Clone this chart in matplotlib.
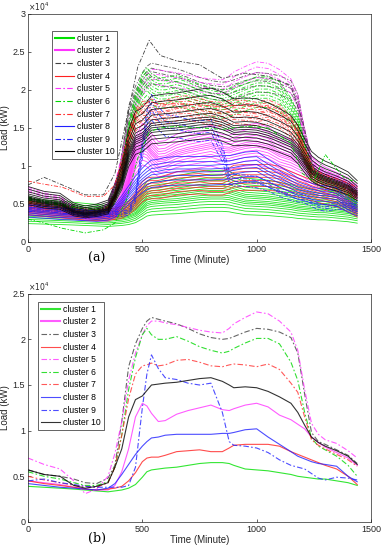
import numpy as np
import matplotlib
matplotlib.use("Agg")
import matplotlib.pyplot as plt

# time grid (minutes) at which the centroid loads were read (values x 1e4 kW)
t = [0, 70, 140, 200, 250, 300, 350, 380, 410, 440, 470, 500, 520, 540, 570, 600,
     650, 700, 750, 800, 850, 880, 900, 950, 1000, 1050, 1100, 1150, 1180, 1210,
     1240, 1270, 1300, 1350, 1400, 1440]

c1 = [0.39, 0.38, 0.37, 0.36, 0.35, 0.34, 0.33, 0.34, 0.35, 0.37, 0.41, 0.49, 0.55, 0.57,
      0.58, 0.59, 0.60, 0.62, 0.64, 0.65, 0.65, 0.64, 0.62, 0.58, 0.57, 0.56, 0.54, 0.52,
      0.50, 0.49, 0.48, 0.47, 0.47, 0.45, 0.43, 0.40]
c2 = [0.45, 0.43, 0.41, 0.38, 0.36, 0.35, 0.35, 0.40, 0.55, 0.80, 1.15, 1.30, 1.27, 1.19,
      1.10, 1.11, 1.18, 1.22, 1.25, 1.28, 1.23, 1.22, 1.24, 1.28, 1.30, 1.26, 1.17, 1.12,
      1.07, 1.02, 0.93, 0.87, 0.82, 0.76, 0.70, 0.62]
c3 = [0.57, 0.52, 0.50, 0.47, 0.43, 0.42, 0.48, 0.62, 1.10, 1.70, 1.95, 2.12, 2.20, 2.24,
      2.22, 2.20, 2.17, 2.12, 2.06, 2.02, 2.00, 2.01, 2.03, 2.08, 2.12, 2.11, 2.08, 2.02,
      1.85, 1.40, 0.98, 0.88, 0.85, 0.79, 0.73, 0.64]
c4 = [0.45, 0.42, 0.40, 0.38, 0.36, 0.35, 0.36, 0.37, 0.39, 0.45, 0.54, 0.66, 0.70, 0.71,
      0.71, 0.73, 0.77, 0.78, 0.79, 0.77, 0.77, 0.81, 0.84, 0.85, 0.85, 0.85, 0.83, 0.77,
      0.74, 0.71, 0.68, 0.65, 0.62, 0.58, 0.50, 0.41]
c5 = [0.70, 0.63, 0.58, 0.45, 0.31, 0.36, 0.50, 0.75, 1.10, 1.55, 1.85, 2.05, 2.15, 2.20,
      2.20, 2.18, 2.16, 2.13, 2.10, 2.08, 2.07, 2.12, 2.17, 2.24, 2.30, 2.28, 2.20, 2.08,
      1.88, 1.45, 1.08, 0.96, 0.90, 0.86, 0.78, 0.70]
c6 = [0.55, 0.50, 0.47, 0.43, 0.40, 0.40, 0.44, 0.60, 0.95, 1.45, 1.80, 2.05, 2.12, 2.05,
      2.00, 2.00, 2.03, 1.98, 1.92, 1.88, 1.85, 1.87, 1.90, 1.96, 2.01, 2.01, 1.95, 1.75,
      1.55, 1.20, 0.92, 0.83, 0.79, 0.72, 0.62, 0.50]
c7 = [0.50, 0.46, 0.43, 0.40, 0.39, 0.38, 0.43, 0.60, 0.95, 1.35, 1.62, 1.71, 1.72, 1.74,
      1.71, 1.72, 1.77, 1.78, 1.75, 1.71, 1.70, 1.72, 1.73, 1.72, 1.70, 1.73, 1.67, 1.52,
      1.42, 1.15, 0.90, 0.84, 0.80, 0.74, 0.68, 0.61]
c8 = [0.42, 0.40, 0.38, 0.37, 0.36, 0.35, 0.37, 0.42, 0.52, 0.63, 0.74, 0.83, 0.88, 0.92,
      0.93, 0.95, 0.96, 0.96, 0.96, 0.96, 0.97, 0.97, 0.98, 1.01, 1.02, 0.93, 0.85, 0.77,
      0.72, 0.69, 0.66, 0.64, 0.63, 0.61, 0.50, 0.44]
c9 = [0.45, 0.47, 0.43, 0.41, 0.39, 0.38, 0.38, 0.38, 0.38, 0.40, 0.60, 1.25, 1.62, 1.83,
      1.68, 1.58, 1.56, 1.52, 1.50, 1.52, 1.20, 0.88, 0.84, 0.83, 0.81, 0.76, 0.68, 0.62,
      0.60, 0.58, 0.53, 0.48, 0.46, 0.49, 0.48, 0.46]
c10 = [0.57, 0.52, 0.50, 0.40, 0.37, 0.39, 0.43, 0.60, 0.80, 1.15, 1.34, 1.38, 1.44, 1.50,
       1.51, 1.52, 1.53, 1.55, 1.57, 1.58, 1.54, 1.50, 1.47, 1.48, 1.47, 1.43, 1.37, 1.30,
       1.20, 1.06, 0.93, 0.87, 0.83, 0.78, 0.72, 0.63]

centroids = [c1, c2, c3, c4, c5, c6, c7, c8, c9, c10]
names = ["cluster %d" % (i + 1) for i in range(10)]
colors = ["#00e000", "#ff33ff", "#404040", "#ff2020", "#ff33ff",
          "#00d800", "#ff3030", "#2020ff", "#2020ff", "#000000"]
dashdot = (0, (5, 2, 1.5, 2))
styles = ["-", "-", dashdot, "-", dashdot, dashdot, dashdot, "-", dashdot, "-"]

# member curves of each cluster in (a), as scale factors of its centroid
m1 = [0.62, 0.70, 0.76, 0.82, 0.87, 0.91, 0.95, 1.00, 1.04, 1.08, 1.13, 1.18, 1.24,
      1.30, 1.37, 1.45]
m2 = [0.78, 0.83, 0.87, 0.90, 0.93, 0.96, 0.98, 1.00, 1.02, 1.05, 1.08, 1.11, 1.15, 1.20]
m3 = [0.93, 0.97, 1.00, 1.02, 1.05]
m4 = [0.80, 0.86, 0.91, 0.95, 1.00, 1.04, 1.09, 1.14, 1.20]
m5 = [0.94, 0.97, 1.00, 1.03]
m6 = [0.88, 0.91, 0.94, 0.96, 0.98, 1.00, 1.02, 1.04, 1.06, 1.08]
m7 = [0.90, 0.93, 0.95, 0.97, 0.99, 1.00, 1.02, 1.04, 1.06, 1.08]
m8 = [0.78, 0.85, 0.91, 0.96, 1.00, 1.05, 1.10, 1.17]
m9 = [0.88, 0.95, 1.00, 1.06]
m10 = [0.86, 0.90, 0.93, 0.96, 0.98, 1.00, 1.02, 1.04, 1.07, 1.11, 1.16, 1.22, 1.28]
members = [m1, m2, m3, m4, m5, m6, m7, m8, m9, m10]

# a few individual outlier curves seen in (a)
t_out = [0, 70, 150, 250, 330, 380, 430, 480, 530, 580, 650, 750, 850, 950, 1050,
         1150, 1200, 1250, 1300, 1380, 1440]
out3 = [0.75, 0.85, 0.75, 0.62, 0.62, 0.90, 1.60, 2.30, 2.65, 2.45, 2.38, 2.33, 2.15,
        2.22, 2.18, 2.05, 1.60, 0.95, 0.85, 0.75, 0.65]
out6 = [0.30, 0.25, 0.18, 0.12, 0.16, 0.25, 0.55, 1.10, 1.45, 1.50, 1.52, 1.50, 1.48,
        1.52, 1.50, 1.30, 0.90, 0.80, 1.15, 0.85, 0.78]
out7 = [0.80, 0.76, 0.72, 0.60, 0.60, 0.75, 1.30, 1.75, 1.85, 1.80, 1.82, 1.80, 1.78,
        1.80, 1.78, 1.62, 1.30, 0.95, 0.88, 0.80, 0.72]

plt.rcParams['font.family'] = ['Arial', 'Liberation Sans', 'DejaVu Sans']

fig = plt.figure(figsize=(3.84, 5.5), dpi=100)
ax1 = fig.add_axes([0.073, 0.56, 0.893, 0.415])
ax2 = fig.add_axes([0.073, 0.051, 0.893, 0.415])

tt = np.array(t)
for k in range(10):
    c = np.array(centroids[k])
    for s in members[k]:
        ax1.plot(tt, c * s * 1e4, color=colors[k], ls=styles[k], lw=0.6, alpha=0.85)
ax1.plot(t_out, np.array(out3) * 1e4, color=colors[2], ls=dashdot, lw=0.6)
ax1.plot(t_out, np.array(out6) * 1e4, color=colors[5], ls=dashdot, lw=0.6)
ax1.plot(t_out, np.array(out7) * 1e4, color=colors[6], ls=dashdot, lw=0.6)
for k in range(10):
    ax1.plot([], [], color=colors[k], ls=styles[k], lw=1.5 if k < 2 else 0.8,
             label=names[k])

for k in range(10):
    ax2.plot(tt, np.array(centroids[k]) * 1e4, color=colors[k], ls=styles[k],
             lw=0.8, alpha=0.8)
    ax2.plot([], [], color=colors[k], ls=styles[k], lw=1.5 if k < 2 else 0.8,
             alpha=0.8, label=names[k])

for ax, ymax, lab in [(ax1, 3e4, "(a)"), (ax2, 2.5e4, "(b)")]:
    ax.set_xlim(0, 1500)
    ax.set_ylim(0, ymax)
    ax.set_xticks([0, 500, 1000, 1500])
    yt = np.arange(0, ymax + 1, 5000)
    ax.set_yticks(yt)
    ax.set_yticklabels(["0" if v == 0 else ("%g" % (v / 1e4)) for v in yt])
    ax.tick_params(direction="in", labelsize=6.5, length=2.5, width=0.5, colors="#262626",
                   pad=2)
    for sp in ax.spines.values():
        sp.set_linewidth(0.5)
        sp.set_color("#262626")
    ax.set_xlabel("Time (Minute)", fontsize=7, labelpad=1, color="#262626")
    ax.set_ylabel("Load (kW)", fontsize=7, labelpad=2, color="#262626")
    ax.text(0, 1.005, r"$\times10^4$", transform=ax.transAxes, fontsize=5.5,
            ha="left", va="bottom", color="#262626")
    ax.text(0.175, -0.045, lab, transform=ax.transAxes, fontsize=9, family="serif",
            ha="left", va="top")

leg_kw = dict(loc="upper left", fontsize=6.2, frameon=True, fancybox=False,
              edgecolor="#262626", framealpha=1, borderpad=0.35, labelspacing=0.42,
              handlelength=2.2, handletextpad=0.3, borderaxespad=0)
ax1.legend(bbox_to_anchor=(0.07, 0.925), **leg_kw).get_frame().set_linewidth(0.5)
ax2.legend(bbox_to_anchor=(0.03, 0.965), **leg_kw).get_frame().set_linewidth(0.5)

fig.savefig("out.png", dpi=100)
